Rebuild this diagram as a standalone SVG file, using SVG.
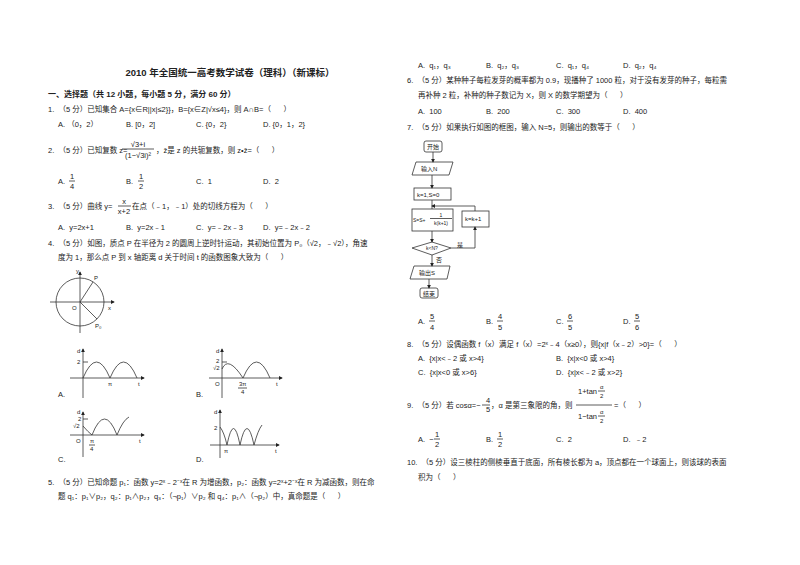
<svg xmlns="http://www.w3.org/2000/svg" width="800" height="565" viewBox="0 0 800 565">
<style>
text{font-family:"Liberation Sans","Noto Sans CJK SC",sans-serif;font-size:7.5px;fill:#222;white-space:pre}
.t{font-size:9.5px;font-weight:bold}
.b{font-weight:bold;font-size:8px}
.s{font-size:6px}
.f{font-size:5px}
.ln{stroke:#333;stroke-width:0.8;fill:none}
</style>
<defs><marker id="a" markerWidth="5" markerHeight="5" refX="4" refY="2.5" orient="auto"><path d="M0,0L5,2.5L0,5z" fill="#222"/></marker></defs>
<rect width="800" height="565" fill="#fff"/>
<g id="left">
<text class="t" x="230" y="76" text-anchor="middle">2010 年全国统一高考数学试卷（理科）（新课标）</text>
<text class="b" x="48" y="97">一、选择题（共 12 小题，每小题 5 分，满分 60 分）</text>
<text x="48" y="112">1.  （5 分）已知集合 A={x∈R||x|≤2}}，B={x∈Z|√x≤4}，则 A∩B=（      ）</text>
<text x="58" y="127">A. （0，2）</text><text x="126" y="127">B. [0，2]</text><text x="196" y="127">C. {0，2}</text><text x="263" y="127">D. {0，1，2}</text>
<text x="48" y="153">2.  （5 分）已知复数 z=</text>
<text x="138" y="147" text-anchor="middle">√3+i</text><line class="ln" x1="122" y1="149" x2="154" y2="149"/>
<text x="138" y="158" text-anchor="middle">(1−√3i)²</text>
<text x="156" y="153">，z̄是 z 的共轭复数，则 z•z̄=（      ）</text>
<text x="58" y="184">A.</text><text x="72" y="179" text-anchor="middle">1</text><line class="ln" x1="69" y1="181" x2="75" y2="181"/><text x="72" y="189" text-anchor="middle">4</text>
<text x="126" y="184">B.</text><text x="141" y="179" text-anchor="middle">1</text><line class="ln" x1="138" y1="181" x2="144" y2="181"/><text x="141" y="189" text-anchor="middle">2</text>
<text x="196" y="184">C.  1</text><text x="263" y="184">D.  2</text>
<text x="48" y="209">3.  （5 分）曲线 y=</text><text x="124" y="204" text-anchor="middle">x</text><line class="ln" x1="118" y1="206" x2="131" y2="206"/><text x="124" y="214" text-anchor="middle">x+2</text>
<text x="132" y="209">在点（﹣1，﹣1）处的切线方程为（      ）</text>
<text x="58" y="230">A.  y=2x+1</text><text x="126" y="230">B.  y=2x﹣1</text><text x="196" y="230">C.  y=﹣2x﹣3</text><text x="263" y="230">D.  y=﹣2x﹣2</text>
<text x="48" y="246">4.  （5 分）如图，质点 P 在半径为 2 的圆周上逆时针运动，其初始位置为 P₀（√2，﹣√2），角速</text>
<text x="58" y="260">度为 1，那么点 P 到 x 轴距离 d 关于时间 t 的函数图象大致为（      ）</text>
<text x="48" y="485">5.  （5 分）已知命题 p₁：函数 y=2ˣ﹣2⁻ˣ在 R 为增函数，p₂：函数 y=2ˣ+2⁻ˣ在 R 为减函数，则在命</text>
<text x="58" y="499">题 q₁：p₁∨p₂，q₂：p₁∧p₂，q₃：（¬p₁）∨p₂ 和 q₄：p₁∧（¬p₂）中，真命题是（      ）</text>
</g>
<g id="circle">
<circle class="ln" cx="80" cy="302" r="24"/>
<line class="ln" x1="50" y1="302" x2="114" y2="302" marker-end="url(#a)"/>
<line class="ln" x1="80" y1="333" x2="80" y2="272" marker-end="url(#a)"/>
<line class="ln" x1="80" y1="302" x2="93" y2="282"/><line class="ln" x1="80" y1="302" x2="97" y2="319"/>
<text class="s" x="76" y="273">y</text><text class="s" x="94" y="280">P</text><text class="s" x="72" y="310">O</text><text class="s" x="108" y="310">x</text><text class="s" x="95" y="328">P₀</text>
</g>
<g id="graphs">
<line class="ln" x1="70" y1="378" x2="144" y2="378" marker-end="url(#a)"/><line class="ln" x1="83" y1="398" x2="83" y2="349" marker-end="url(#a)"/>
<path class="ln" d="M83,378Q96.5,346 110,378Q123.5,346 137,378"/><line class="ln" x1="83" y1="362" x2="88" y2="362"/>
<text class="s" x="77" y="353">d</text><text class="s" x="77" y="364">2</text><text class="s" x="108" y="386">π</text><text class="s" x="138" y="386">t</text><text x="58" y="397">A.</text>
<line class="ln" x1="209" y1="378" x2="282" y2="378" marker-end="url(#a)"/><line class="ln" x1="222" y1="398" x2="222" y2="349" marker-end="url(#a)"/>
<path class="ln" d="M222,369Q228,355 243,378Q256.5,346 270,378"/><line class="ln" x1="222" y1="362" x2="227" y2="362"/>
<text class="s" x="216" y="353">d</text><text class="s" x="216" y="363">2</text><text class="s" x="213" y="370">√2</text><text class="s" x="215" y="386">O</text><text class="s" x="239" y="386">3π</text><line class="ln" x1="238" y1="388" x2="247" y2="388"/><text class="s" x="241" y="394">4</text><text class="s" x="276" y="386">t</text><text x="196" y="397">B.</text>
<line class="ln" x1="70" y1="435" x2="144" y2="435" marker-end="url(#a)"/><line class="ln" x1="83" y1="457" x2="83" y2="412" marker-end="url(#a)"/>
<path class="ln" d="M83,426Q88,432 92,435Q104.5,403 117,435Q123,420 129,417"/><line class="ln" x1="83" y1="419" x2="88" y2="419"/>
<text class="s" x="77" y="414">d</text><text class="s" x="78" y="421">2</text><text class="s" x="73" y="428">√2</text><text class="s" x="76" y="443">O</text><text class="s" x="90" y="443">π</text><line class="ln" x1="89" y1="445" x2="95" y2="445"/><text class="s" x="90" y="451">4</text><text class="s" x="139" y="443">t</text><text x="58" y="462">C.</text>
<line class="ln" x1="210" y1="445" x2="279" y2="445" marker-end="url(#a)"/><line class="ln" x1="220" y1="458" x2="220" y2="410" marker-end="url(#a)"/>
<path class="ln" d="M220,427Q224,432 227,445Q233.5,412 240,445Q247,412 254,445Q258,430 262,425"/>
<text class="s" x="214" y="414">d</text><text class="s" x="214" y="430">2</text><text class="s" x="224" y="453">π</text><text class="s" x="275" y="453">t</text><text x="196" y="462">D.</text>
</g>
<g id="right">
<text x="418" y="68">A.  q₁，q₃</text><text x="486" y="68">B.  q₂，q₃</text><text x="556" y="68">C.  q₁，q₄</text><text x="623" y="68">D.  q₂，q₄</text>
<text x="407" y="83">6.  （5 分）某种种子每粒发芽的概率都为 0.9，现播种了 1000 粒，对于没有发芽的种子，每粒需</text>
<text x="418" y="98">再补种 2 粒，补种的种子数记为 X，则 X 的数学期望为（      ）</text>
<text x="418" y="114">A.  100</text><text x="486" y="114">B.  200</text><text x="556" y="114">C.  300</text><text x="623" y="114">D.  400</text>
<text x="407" y="130">7.  （5 分）如果执行如图的框图，输入 N=5，则输出的数等于（      ）</text>
<text x="418" y="324">A.</text><text x="432" y="319" text-anchor="middle">5</text><line class="ln" x1="429" y1="321" x2="435" y2="321"/><text x="432" y="330" text-anchor="middle">4</text>
<text x="486" y="324">B.</text><text x="500" y="319" text-anchor="middle">4</text><line class="ln" x1="497" y1="321" x2="503" y2="321"/><text x="500" y="330" text-anchor="middle">5</text>
<text x="556" y="324">C.</text><text x="570" y="319" text-anchor="middle">6</text><line class="ln" x1="567" y1="321" x2="573" y2="321"/><text x="570" y="330" text-anchor="middle">5</text>
<text x="623" y="324">D.</text><text x="637" y="319" text-anchor="middle">5</text><line class="ln" x1="634" y1="321" x2="640" y2="321"/><text x="637" y="330" text-anchor="middle">6</text>
<text x="407" y="347">8.  （5 分）设偶函数 f（x）满足 f（x）=2ˣ﹣4（x≥0），则{x|f（x﹣2）&gt;0}=（      ）</text>
<text x="418" y="361">A.  {x|x&lt;﹣2 或 x&gt;4}</text><text x="556" y="361">B.  {x|x&lt;0 或 x&gt;4}</text>
<text x="418" y="375">C.  {x|x&lt;0 或 x&gt;6}</text><text x="556" y="375">D.  {x|x&lt;﹣2 或 x&gt;2}</text>
<text x="407" y="408">9.  （5 分）若 cosα=−</text><text x="486" y="403">4</text><line class="ln" x1="482" y1="405" x2="490" y2="405"/><text x="486" y="412">5</text>
<text x="491" y="408">，α 是第三象限的角，则</text>
<text x="578" y="394">1+tan</text><text x="600" y="389" class="s">α</text><line class="ln" x1="598" y1="391" x2="605" y2="391"/><text x="600" y="398" class="s">2</text>
<line class="ln" x1="576" y1="405" x2="612" y2="405"/>
<text x="578" y="419">1−tan</text><text x="600" y="414" class="s">α</text><line class="ln" x1="598" y1="416" x2="605" y2="416"/><text x="600" y="423" class="s">2</text>
<text x="614" y="408">=（      ）</text>
<text x="418" y="442">A.  −</text><text x="437" y="437" text-anchor="middle">1</text><line class="ln" x1="434" y1="439" x2="440" y2="439"/><text x="437" y="447" text-anchor="middle">2</text>
<text x="486" y="442">B.</text><text x="500" y="437" text-anchor="middle">1</text><line class="ln" x1="497" y1="439" x2="503" y2="439"/><text x="500" y="447" text-anchor="middle">2</text>
<text x="556" y="442">C.  2</text><text x="623" y="442">D.  ﹣2</text>
<text x="407" y="465">10.  （5 分）设三棱柱的侧棱垂直于底面，所有棱长都为 a，顶点都在一个球面上，则该球的表面</text>
<text x="418" y="480">积为（      ）</text>
</g>
<g id="flow">
<rect class="ln" x="424" y="141" width="18" height="11" rx="2"/><text class="s" x="427" y="149">开始</text>
<path class="ln" d="M416,162H453L449,175H412Z"/><text class="s" x="421" y="171">输入N</text>
<rect class="ln" x="414" y="188" width="37" height="12"/><text class="s" x="417" y="196.5">k=1,S=0</text>
<rect class="ln" x="412" y="209" width="41" height="22"/><text class="f" x="413" y="222">S=S+</text><text class="f" x="441" y="216.5" text-anchor="middle">1</text><line class="ln" x1="430" y1="218.5" x2="452" y2="218.5"/><text class="f" x="441" y="225" text-anchor="middle">k(k+1)</text>
<rect class="ln" x="462" y="211" width="27" height="16"/><text class="s" x="465" y="221">k=k+1</text>
<path class="ln" d="M412,248L432,242L451,248L432,255Z"/><text class="f" x="426" y="250">k&lt;N?</text>
<path class="ln" d="M414,266H450L447,279H410Z"/><text class="s" x="419" y="275">输出S</text>
<rect class="ln" x="420" y="288" width="18" height="10" rx="2"/><text class="s" x="423" y="295.5">结束</text>
<text class="s" x="457" y="247">是</text><text class="s" x="436" y="262">否</text>
</g>
<g id="connectors">
<line class="ln" x1="433" y1="152" x2="433" y2="162" marker-end="url(#a)"/>
<line class="ln" x1="432" y1="175" x2="432" y2="188" marker-end="url(#a)"/>
<line class="ln" x1="432" y1="200" x2="432" y2="209"/>
<path class="ln" d="M475,211V206H432" marker-end="url(#a)"/>
<line class="ln" x1="432" y1="231" x2="432" y2="242" marker-end="url(#a)"/>
<path class="ln" d="M451,248H475V227" marker-end="url(#a)"/>
<line class="ln" x1="432" y1="255" x2="432" y2="266" marker-end="url(#a)"/>
<line class="ln" x1="429" y1="279" x2="429" y2="288" marker-end="url(#a)"/>
</g>
</svg>
